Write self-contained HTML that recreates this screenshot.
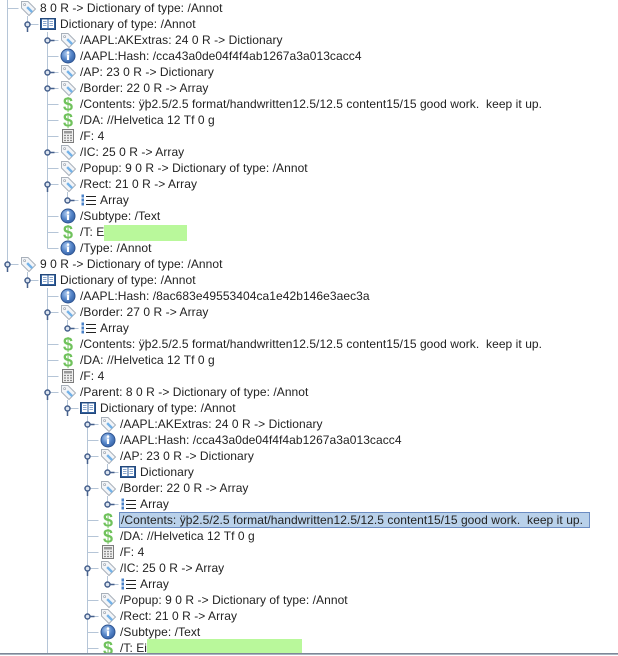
<!DOCTYPE html>
<html>
<head>
<meta charset="utf-8">
<style>
  html,body{margin:0;padding:0;background:#fff;}
  body{width:618px;height:656px;overflow:hidden;}
  svg{display:block;}
  .t{font-family:"Liberation Sans",Arial,sans-serif;font-size:12px;fill:#222;white-space:pre;letter-spacing:0.06px;}
  .d{font-family:"Liberation Sans",Arial,sans-serif;font-size:18px;font-weight:bold;fill:#70c25c;text-anchor:middle;}
</style>
</head>
<body>
<svg width="618" height="656" viewBox="0 0 618 656" xmlns="http://www.w3.org/2000/svg">
  <defs>
    <radialGradient id="ig" cx="0.4" cy="0.35" r="0.7">
      <stop offset="0" stop-color="#b0cbee"/>
      <stop offset="0.55" stop-color="#5484c8"/>
      <stop offset="1" stop-color="#3460a4"/>
    </radialGradient>
    <g id="tag">
      <path d="M1.5,1.5 H8 L15.5,9 L9,15.5 L1.5,8 Z" fill="#f3f5f8" stroke="#a8b0ba"/>
      <path d="M8,6.3 L13,11.3 L11.3,13 L6.3,8 Z" fill="#74b2e8"/>
      <circle cx="4.6" cy="4.6" r="1" fill="#fff" stroke="#a3abb5" stroke-width="0.8"/>
    </g>
    <g id="book">
      <rect x="0.5" y="2.5" width="15" height="11" fill="#2f5f9e" stroke="#24487a"/>
      <rect x="2" y="3.5" width="5.5" height="8.5" fill="#fff"/>
      <rect x="8.5" y="3.5" width="5.5" height="8.5" fill="#fff"/>
      <path d="M3,5.5h3.5M3,7.5h3.5M3,9.5h3.5M9.5,5.5h3.5M9.5,7.5h3.5M9.5,9.5h3.5" stroke="#8aa6cc"/>
    </g>
    <g id="info">
      <circle cx="8" cy="8" r="7" fill="url(#ig)" stroke="#2f5592"/>
      <circle cx="8" cy="4.6" r="1.3" fill="#fff"/>
      <rect x="6.9" y="6.6" width="2.2" height="5.4" fill="#fff"/>
    </g>
    <g id="calc">
      <rect x="2.5" y="1.5" width="11" height="13" fill="#f0f0f0" stroke="#7c7c7c"/>
      <rect x="4" y="3" width="8" height="2.5" fill="#9a9a9a"/>
      <path d="M4,7.5h2M7,7.5h2M10,7.5h2M4,10h2M7,10h2M10,10h2M4,12.5h2M7,12.5h2M10,12.5h2" stroke="#8a8a8a" stroke-width="1.2"/>
    </g>
    <g id="list">
      <rect x="1.5" y="2.5" width="2.5" height="3" fill="#4a82c8"/>
      <rect x="1.5" y="6.5" width="2.5" height="3" fill="#4a82c8"/>
      <rect x="1.5" y="10.5" width="2.5" height="3" fill="#4a82c8"/>
      <path d="M6,4.5h10M6,8.5h10M6,12.5h10" stroke="#222" stroke-width="1"/>
    </g>
    <clipPath id="clip"><rect x="0" y="0" width="618" height="653"/></clipPath>
  </defs>

  <g clip-path="url(#clip)">
    <path fill="none" stroke="#b5c5d7" stroke-width="1" d="M7.5,0V264.5 M27.5,16V24.5 M27.5,272V280.5 M47.5,32V248.5 M47.5,288V656 M67.5,192V200.5 M67.5,320V328.5 M67.5,400V408.5 M87.5,416V656 M107.5,464V472.5 M107.5,496V504.5 M107.5,576V584.5"/>
    <path fill="none" stroke="#b5c5d7" stroke-width="1" d="
      M7.5,8.5h11 M27.5,24.5h11
      M47.5,40.5h11 M47.5,56.5h11 M47.5,72.5h11 M47.5,88.5h11 M47.5,104.5h11 M47.5,120.5h11 M47.5,136.5h11 M47.5,152.5h11 M47.5,168.5h11 M47.5,184.5h11
      M67.5,200.5h11
      M47.5,216.5h11 M47.5,232.5h11 M47.5,248.5h11
      M7.5,264.5h11 M27.5,280.5h11
      M47.5,296.5h11 M47.5,312.5h11 M67.5,328.5h11 M47.5,344.5h11 M47.5,360.5h11 M47.5,376.5h11 M47.5,392.5h11
      M67.5,408.5h11
      M87.5,424.5h11 M87.5,440.5h11 M87.5,456.5h11 M107.5,472.5h11 M87.5,488.5h11 M107.5,504.5h11 M87.5,520.5h11 M87.5,536.5h11 M87.5,552.5h11 M87.5,568.5h11 M107.5,584.5h11 M87.5,600.5h11 M87.5,616.5h11 M87.5,632.5h11 M87.5,648.5h11"/>

    <g fill="#dde5f0" stroke="#46608c" stroke-width="1.5">
      <circle cx="47.5" cy="40.5" r="2.5"/><circle cx="47.5" cy="72.5" r="2.5"/><circle cx="47.5" cy="88.5" r="2.5"/><circle cx="47.5" cy="152.5" r="2.5"/>
      <circle cx="67.5" cy="200.5" r="2.5"/><circle cx="67.5" cy="328.5" r="2.5"/><circle cx="87.5" cy="424.5" r="2.5"/>
      <circle cx="107.5" cy="472.5" r="2.5"/><circle cx="107.5" cy="504.5" r="2.5"/><circle cx="107.5" cy="584.5" r="2.5"/><circle cx="87.5" cy="616.5" r="2.5"/>
      <circle cx="27.5" cy="24.5" r="2.5"/><circle cx="47.5" cy="184.5" r="2.5"/><circle cx="7.5" cy="264.5" r="2.5"/><circle cx="27.5" cy="280.5" r="2.5"/>
      <circle cx="47.5" cy="312.5" r="2.5"/><circle cx="47.5" cy="392.5" r="2.5"/><circle cx="67.5" cy="408.5" r="2.5"/>
      <circle cx="87.5" cy="456.5" r="2.5"/><circle cx="87.5" cy="488.5" r="2.5"/><circle cx="87.5" cy="568.5" r="2.5"/>
    </g>
    <path fill="none" stroke="#46608c" stroke-width="1.5" d="
      M50,40.5h4.5 M50,72.5h4.5 M50,88.5h4.5 M50,152.5h4.5 M70,200.5h4.5 M70,328.5h4.5 M90,424.5h4.5 M110,472.5h4.5 M110,504.5h4.5 M110,584.5h4.5 M90,616.5h4.5
      M27.5,27v5 M47.5,187v5 M7.5,267v5 M27.5,283v5 M47.5,315v5 M47.5,395v5 M67.5,411v5 M87.5,459v5 M87.5,491v5 M87.5,571v5"/>

    <use href="#tag" x="20" y="0"/>
    <use href="#tag" x="60" y="32"/>
    <use href="#tag" x="60" y="64"/>
    <use href="#tag" x="60" y="80"/>
    <use href="#tag" x="60" y="144"/>
    <use href="#tag" x="60" y="160"/>
    <use href="#tag" x="60" y="176"/>
    <use href="#tag" x="20" y="256"/>
    <use href="#tag" x="60" y="304"/>
    <use href="#tag" x="60" y="384"/>
    <use href="#tag" x="100" y="416"/>
    <use href="#tag" x="100" y="448"/>
    <use href="#tag" x="100" y="480"/>
    <use href="#tag" x="100" y="560"/>
    <use href="#tag" x="100" y="592"/>
    <use href="#tag" x="100" y="608"/>

    <use href="#book" x="40" y="16"/>
    <use href="#book" x="40" y="272"/>
    <use href="#book" x="80" y="400"/>
    <use href="#book" x="120" y="464"/>

    <use href="#info" x="60" y="48"/>
    <use href="#info" x="60" y="208"/>
    <use href="#info" x="60" y="240"/>
    <use href="#info" x="60" y="288"/>
    <use href="#info" x="100" y="432"/>
    <use href="#info" x="100" y="624"/>

    <use href="#calc" x="60" y="128"/>
    <use href="#calc" x="60" y="368"/>
    <use href="#calc" x="100" y="544"/>

    <use href="#list" x="80" y="192"/>
    <use href="#list" x="80" y="320"/>
    <use href="#list" x="120" y="496"/>
    <use href="#list" x="120" y="576"/>

    <text class="d" x="68" y="110.5">$</text>
    <text class="d" x="68" y="126.5">$</text>
    <text class="d" x="68" y="238.5">$</text>
    <text class="d" x="68" y="350.5">$</text>
    <text class="d" x="68" y="366.5">$</text>
    <text class="d" x="108" y="526.5">$</text>
    <text class="d" x="108" y="542.5">$</text>
    <text class="d" x="108" y="654.5">$</text>

    <rect x="119.5" y="512.5" width="470" height="15" fill="#b9d1ea" stroke="#6b8cc2"/>

    <text class="t" x="40" y="12">8 0 R -&gt; Dictionary of type: /Annot</text>
    <text class="t" x="60" y="28">Dictionary of type: /Annot</text>
    <text class="t" x="80" y="44">/AAPL:AKExtras: 24 0 R -&gt; Dictionary</text>
    <text class="t" x="80" y="60">/AAPL:Hash: /cca43a0de04f4f4ab1267a3a013cacc4</text>
    <text class="t" x="80" y="76">/AP: 23 0 R -&gt; Dictionary</text>
    <text class="t" x="80" y="92">/Border: 22 0 R -&gt; Array</text>
    <text class="t" x="80" y="108">/Contents: ÿþ2.5/2.5 format/handwritten12.5/12.5 content15/15 good work.  keep it up.</text>
    <text class="t" x="80" y="124">/DA: //Helvetica 12 Tf 0 g</text>
    <text class="t" x="80" y="140">/F: 4</text>
    <text class="t" x="80" y="156">/IC: 25 0 R -&gt; Array</text>
    <text class="t" x="80" y="172">/Popup: 9 0 R -&gt; Dictionary of type: /Annot</text>
    <text class="t" x="80" y="188">/Rect: 21 0 R -&gt; Array</text>
    <text class="t" x="100" y="204">Array</text>
    <text class="t" x="80" y="220">/Subtype: /Text</text>
    <text class="t" x="80" y="236">/T: E</text>
    <text class="t" x="80" y="252">/Type: /Annot</text>
    <text class="t" x="40" y="268">9 0 R -&gt; Dictionary of type: /Annot</text>
    <text class="t" x="60" y="284">Dictionary of type: /Annot</text>
    <text class="t" x="80" y="300">/AAPL:Hash: /8ac683e49553404ca1e42b146e3aec3a</text>
    <text class="t" x="80" y="316">/Border: 27 0 R -&gt; Array</text>
    <text class="t" x="100" y="332">Array</text>
    <text class="t" x="80" y="348">/Contents: ÿþ2.5/2.5 format/handwritten12.5/12.5 content15/15 good work.  keep it up.</text>
    <text class="t" x="80" y="364">/DA: //Helvetica 12 Tf 0 g</text>
    <text class="t" x="80" y="380">/F: 4</text>
    <text class="t" x="80" y="396">/Parent: 8 0 R -&gt; Dictionary of type: /Annot</text>
    <text class="t" x="100" y="412">Dictionary of type: /Annot</text>
    <text class="t" x="120" y="428">/AAPL:AKExtras: 24 0 R -&gt; Dictionary</text>
    <text class="t" x="120" y="444">/AAPL:Hash: /cca43a0de04f4f4ab1267a3a013cacc4</text>
    <text class="t" x="120" y="460">/AP: 23 0 R -&gt; Dictionary</text>
    <text class="t" x="140" y="476">Dictionary</text>
    <text class="t" x="120" y="492">/Border: 22 0 R -&gt; Array</text>
    <text class="t" x="140" y="508">Array</text>
    <text class="t" x="121" y="524">/Contents: ÿþ2.5/2.5 format/handwritten12.5/12.5 content15/15 good work.  keep it up.</text>
    <text class="t" x="120" y="540">/DA: //Helvetica 12 Tf 0 g</text>
    <text class="t" x="120" y="556">/F: 4</text>
    <text class="t" x="120" y="572">/IC: 25 0 R -&gt; Array</text>
    <text class="t" x="140" y="588">Array</text>
    <text class="t" x="120" y="604">/Popup: 9 0 R -&gt; Dictionary of type: /Annot</text>
    <text class="t" x="120" y="620">/Rect: 21 0 R -&gt; Array</text>
    <text class="t" x="120" y="636">/Subtype: /Text</text>
    <text class="t" x="120" y="652">/T: Ei</text>

    <rect x="104" y="225" width="83" height="16" fill="#b9f89b"/>
    <rect x="147" y="639" width="155" height="14" fill="#b9f89b"/>
  </g>

  <rect x="0" y="653" width="618" height="1" fill="#7d8898"/>
  <rect x="0" y="654" width="618" height="1" fill="#aab4c0"/>
</svg>
</body>
</html>
